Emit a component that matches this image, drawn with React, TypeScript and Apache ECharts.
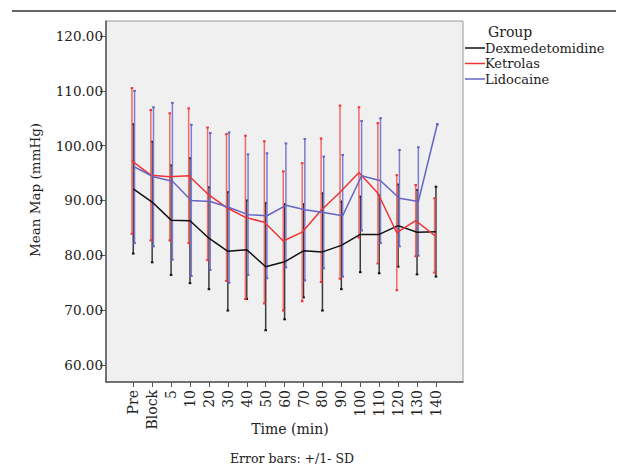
import React, { useEffect, useRef } from "react";
import * as echarts from "echarts";

const TIME_LABELS = ["Pre", "Block", "5", "10", "20", "30", "40", "50", "60", "70", "80", "90", "100", "110", "120", "130", "140"];
const Y_TICKS = [60, 70, 80, 90, 100, 110, 120];

const DEX_MEAN = [92.1, 89.7, 86.4, 86.3, 83.1, 80.7, 81.0, 77.9, 78.8, 80.8, 80.6, 81.8, 83.8, 83.8, 85.4, 84.2, 84.3];
const DEX_SD = [11.8, 11.0, 10.0, 11.4, 9.3, 10.8, 9.0, 11.6, 10.5, 8.5, 10.7, 8.0, 6.9, 7.1, 7.5, 7.7, 8.2];

const KET_MEAN = [97.2, 94.6, 94.3, 94.5, 91.2, 88.7, 86.9, 86.0, 82.6, 84.2, 88.2, 91.5, 95.1, 91.3, 84.1, 86.3, 83.6];
const KET_SD = [13.3, 11.9, 11.6, 12.3, 12.1, 13.4, 14.9, 14.8, 12.7, 12.6, 13.1, 15.8, 11.9, 12.8, 10.5, 6.5, 6.8];

const LID_MEAN = [96.1, 94.3, 93.5, 90.0, 89.8, 88.7, 87.4, 87.2, 89.1, 88.3, 87.8, 87.2, 94.5, 93.6, 90.4, 89.8, 103.9];
const LID_SD = [13.9, 12.7, 14.3, 13.8, 12.5, 13.7, 11.0, 11.4, 11.3, 12.9, 10.2, 11.1, 10.0, 11.4, 8.8, 9.9, 0];

const GROUPS = [
  { name: "Dexmedetomidine", mean: DEX_MEAN, sd: DEX_SD, line: "#111111", bar: "#3a3a3a", off: 0 },
  { name: "Ketrolas", mean: KET_MEAN, sd: KET_SD, line: "#ee3434", bar: "#f06a6a", off: -0.07 },
  { name: "Lidocaine", mean: LID_MEAN, sd: LID_SD, line: "#6464c4", bar: "#7c7cd2", off: 0.07 },
];

const FONT = "DejaVu Serif";

export default function App() {
  const ref = useRef<HTMLDivElement>(null);
  useEffect(() => {
    document.body.style.margin = "0";
    const chart = echarts.init(ref.current!, null, { renderer: "svg" });
    const idx = TIME_LABELS.map((_, i) => i);

    const errSeries = GROUPS.map((g) => ({
      type: "custom",
      name: g.name + " SD",
      silent: true,
      z: 2,
      data: g.mean.map((m, i) => [i + g.off, m - g.sd[i], m + g.sd[i]]),
      encode: { x: 0, y: [1, 2] },
      renderItem: (_p: any, api: any) => {
        const x = api.value(0);
        const lo = api.coord([x, api.value(1)]);
        const hi = api.coord([x, api.value(2)]);
        const st = { stroke: g.bar, lineWidth: 1.5 };
        return {
          type: "group",
          children: [
            { type: "line", shape: { x1: lo[0], y1: lo[1], x2: hi[0], y2: hi[1] }, style: st },
            { type: "line", shape: { x1: hi[0] - 1.3, y1: hi[1], x2: hi[0] + 1.3, y2: hi[1] }, style: { stroke: g.line, lineWidth: 2 } },
            { type: "line", shape: { x1: lo[0] - 1.3, y1: lo[1], x2: lo[0] + 1.3, y2: lo[1] }, style: { stroke: g.line, lineWidth: 2 } },
          ],
        };
      },
    }));

    const lineSeries = GROUPS.map((g) => ({
      type: "line",
      name: g.name,
      data: g.mean.map((m, i) => [i + g.off, m]),
      showSymbol: false,
      symbol: "none",
      z: 4,
      lineStyle: { color: g.line, width: 1.5 },
      itemStyle: { color: g.line },
    }));

    const legendChildren: any[] = [
      { type: "text", x: 488, y: 32, style: { text: "Group", font: `14px "${FONT}"`, fill: "#222", textVerticalAlign: "middle" } },
    ];
    GROUPS.forEach((g, k) => {
      const y = 48 + k * 15.5;
      legendChildren.push({ type: "line", shape: { x1: 465, y1: y, x2: 485, y2: y }, style: { stroke: g.line, lineWidth: 1.5 } });
      legendChildren.push({ type: "text", x: 485, y: y, style: { text: g.name, font: `13px "${FONT}"`, fill: "#222", textVerticalAlign: "middle" } });
    });

    chart.setOption({
      animation: false,
      grid: {
        left: 106,
        top: 21,
        width: 357,
        height: 361,
        show: true,
        backgroundColor: "#f0f0f0",
        borderColor: "#9a9a9a",
        borderWidth: 1,
      },
      xAxis: {
        type: "value",
        min: -1.44,
        max: 17.43,
        splitLine: { show: false },
        axisLine: { show: true, onZero: false, lineStyle: { color: "#555", width: 1.5 } },
        axisTick: { show: true, customValues: idx, length: 5, lineStyle: { color: "#555", width: 1 } },
        axisLabel: {
          customValues: idx,
          rotate: 90,
          margin: 8,
          fontFamily: FONT,
          fontSize: 14,
          color: "#222",
          formatter: (v: number) => TIME_LABELS[Math.round(v)],
        },
      },
      yAxis: {
        type: "value",
        min: 56.86,
        max: 122.74,
        splitLine: { show: false },
        axisLine: { show: true, onZero: false, lineStyle: { color: "#555", width: 1.5 } },
        axisTick: { show: true, customValues: Y_TICKS, length: 6, lineStyle: { color: "#555", width: 1 } },
        axisLabel: {
          customValues: Y_TICKS,
          margin: 3,
          fontFamily: FONT,
          fontSize: 13.5,
          color: "#222",
          formatter: (v: number) => v.toFixed(2),
        },
      },
      series: [...errSeries, ...lineSeries],
      graphic: [
        { type: "line", shape: { x1: 12, y1: 11, x2: 616, y2: 11 }, style: { stroke: "#333", lineWidth: 1.5 } },
        {
          type: "text",
          x: 35,
          y: 190,
          rotation: Math.PI / 2,
          style: { text: "Mean Map (mmHg)", font: `13.5px "${FONT}"`, fill: "#222", textAlign: "center", textVerticalAlign: "middle" },
        },
        { type: "text", x: 290, y: 429, style: { text: "Time (min)", font: `14px "${FONT}"`, fill: "#222", textAlign: "center", textVerticalAlign: "middle" } },
        { type: "text", x: 292, y: 458, style: { text: "Error bars: +/1- SD", font: `12.5px "${FONT}"`, fill: "#222", textAlign: "center", textVerticalAlign: "middle" } },
        ...legendChildren,
      ],
    });
    return () => chart.dispose();
  }, []);
  return <div ref={ref} style={{ width: 630, height: 466 }} />;
}
